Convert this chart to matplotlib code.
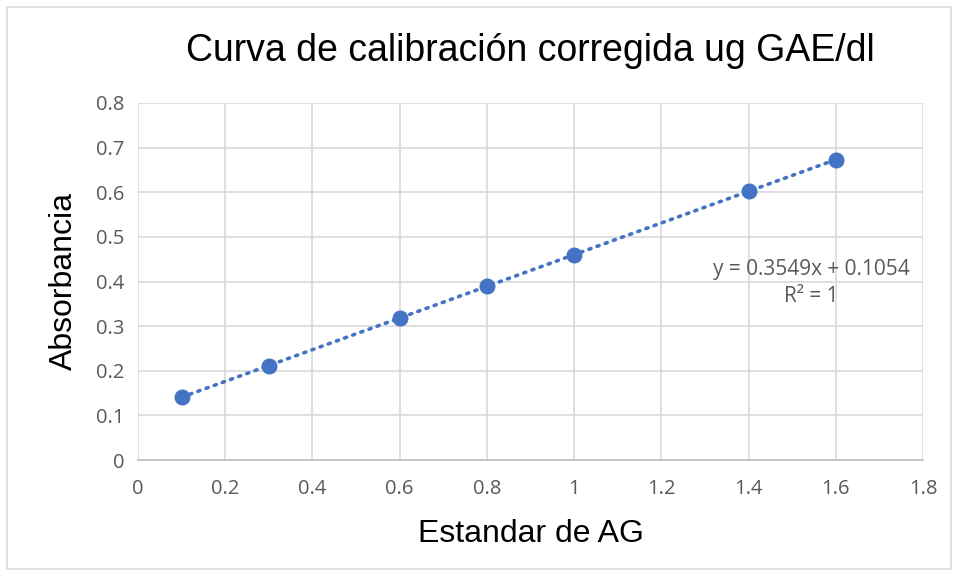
import numpy as np
import matplotlib
matplotlib.use("Agg")
from matplotlib import pyplot as plt
from matplotlib.patches import Rectangle

# calibration standards
x_std = [0.1, 0.3, 0.6, 0.8, 1.0, 1.4, 1.6]
absorb = [0.141, 0.211, 0.318, 0.390, 0.460, 0.602, 0.673]
x_ticks = [0, 0.2, 0.4, 0.6, 0.8, 1, 1.2, 1.4, 1.6, 1.8]
y_ticks = [0, 0.1, 0.2, 0.3, 0.4, 0.5, 0.6, 0.7, 0.8]

blue = '#4472C4'
grey_txt = '#595959'

fig = plt.figure(figsize=(9.58, 5.76), dpi=100)
fig.patches.append(Rectangle((0.007, 0.012), 0.986, 0.976, transform=fig.transFigure,
                             fill=False, edgecolor='#D9D9D9', linewidth=1.2))
ax = fig.add_axes([138 / 958, 1 - 460 / 576, (923 - 138) / 958, (460 - 103) / 576])

# linear trendline
slope, intercept = np.polyfit(x_std, absorb, 1)
xs = np.array([min(x_std), max(x_std)])
ax.plot(xs, slope * xs + intercept, color=blue, linestyle=(0, (0.6, 1.8)),
        linewidth=2.6, dash_capstyle='round', zorder=3)
ax.plot(x_std, absorb, 'o', color=blue, markersize=10.5, zorder=4)

ax.set_xlim(0, 1.8)
ax.set_ylim(0, 0.8)
ax.set_xticks(x_ticks)
ax.set_yticks(y_ticks)
ax.set_xticklabels([f'{v:g}' for v in x_ticks])
ax.set_yticklabels([f'{v:g}' for v in y_ticks])
ax.grid(True, color='#D9D9D9', linewidth=1.2)
ax.set_axisbelow(True)
for s in ax.spines.values():
    s.set_visible(False)
ax.spines['bottom'].set_visible(True)
ax.spines['bottom'].set_color('#BFBFBF')
ax.spines['bottom'].set_linewidth(1.2)
ax.tick_params(length=0, labelsize=14.5, labelcolor=grey_txt, pad=10)
for lab in ax.get_xticklabels() + ax.get_yticklabels():
    lab.set_fontfamily('Open Sans')
ax.tick_params(axis='x', pad=14)

ax.set_title('Curva de calibración corregida ug GAE/dl', fontsize=27,
             fontfamily='Liberation Sans', pad=30)
ax.set_xlabel('Estandar de AG', fontsize=23, fontfamily='Liberation Sans', labelpad=14)
ax.set_ylabel('Absorbancia', fontsize=23, fontfamily='Liberation Sans', labelpad=12)

ax.text(1.545, 0.397, 'y = 0.3549x + 0.1054\nR² = 1', ha='center', va='center',
        fontsize=15, color=grey_txt, fontfamily='Open Sans', linespacing=1.4)

fig.savefig('out.png', dpi=100)
